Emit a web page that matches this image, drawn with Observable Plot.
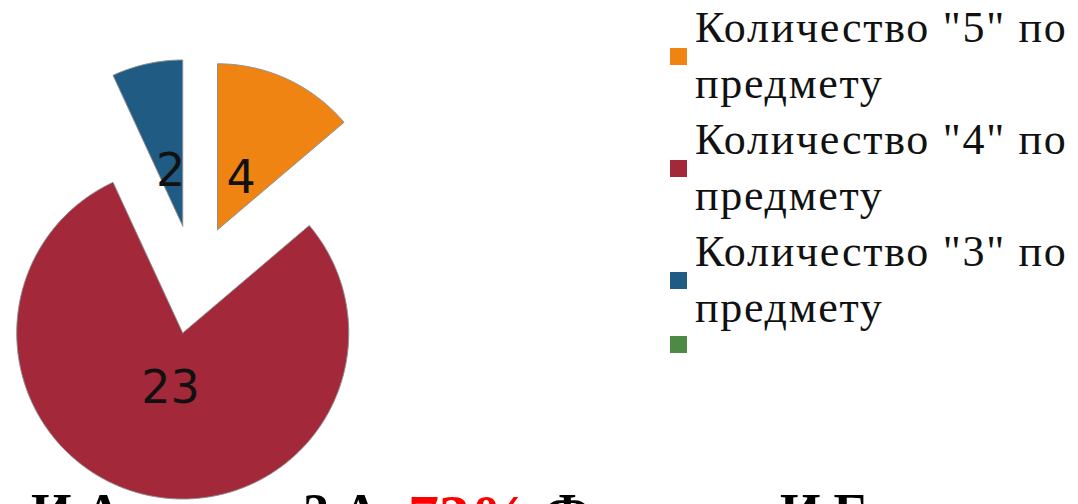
<!DOCTYPE html>
<html><head><meta charset="utf-8">
<script src="https://cdn.jsdelivr.net/npm/d3@7"></script>
<script src="https://cdn.jsdelivr.net/npm/@observablehq/plot@0.6"></script>
<style>
html,body{margin:0;padding:0;background:#fff;}
#wrap{position:relative;width:1078px;height:504px;overflow:hidden;background:#fff;}
#chart{position:absolute;left:0;top:0;z-index:2;}
#chart svg{background:transparent;}
#legend{position:absolute;left:670px;top:0;width:408px;font-family:"Liberation Serif","Times New Roman",serif;font-size:44px;line-height:56px;letter-spacing:1.7px;color:#111;z-index:3;}
.item{display:flex;align-items:center;}
.sw{width:17px;height:17px;flex:none;margin-right:8px;}
.lab{width:383px;font-family:"Liberation Serif",serif;}
#caption{position:absolute;left:0;top:0;width:1078px;height:504px;font-family:"Liberation Serif","Times New Roman",serif;font-weight:bold;line-height:56px;white-space:nowrap;z-index:1;color:#000;}
#caption span{position:absolute;}
</style></head>
<body>
<div id="wrap">
  <div id="caption"></div>
  <div id="chart"></div>
  <div id="legend"></div>
</div>
<script>
// ---- data ----
const categories = ['Количество "5" по предмету', 'Количество "4" по предмету', 'Количество "3" по предмету', ''];
const values = [4, 23, 2, 0];
const sliceLabels = ['4', '23', '2', ''];
const colors = ['#EF8412', '#A3283A', '#1F5B82', '#4C8A46'];
const captionParts = ['И.А. класс', '2 А', '73%', 'Федорова', 'И.Е.'];

// ---- layout ----
const W = 420, H = 504, R = 166, CX = 194, CY = 279;
const explode = 0.33, labelR = 0.67;

const arcs = d3.pie().sort(null).value(d => d).startAngle(0).endAngle(2 * Math.PI)(values);
const polys = [];
const labels = [];
arcs.forEach((p, i) => {
  if (p.value <= 0) return;
  const mid = (p.startAngle + p.endAngle) / 2;
  const ox = explode * Math.sin(mid), oy = explode * Math.cos(mid);
  const cat = categories[i];
  polys.push({cat, x: ox, y: oy});
  const n = Math.max(2, Math.ceil((p.endAngle - p.startAngle) / 0.01));
  for (let k = 0; k <= n; k++) {
    const a = p.startAngle + (p.endAngle - p.startAngle) * k / n;
    polys.push({cat, x: ox + Math.sin(a), y: oy + Math.cos(a)});
  }
  polys.push({cat, x: ox, y: oy});
  labels.push({cat, text: sliceLabels[i], x: labelR * Math.sin(mid), y: labelR * Math.cos(mid)});
});

const chart = Plot.plot({
  width: W, height: H,
  margin: 0,
  x: {domain: [-CX / R, (W - CX) / R], axis: null},
  y: {domain: [(CY - H) / R, CY / R], axis: null},
  color: {domain: categories, range: colors},
  style: {background: "transparent", overflow: "visible"},
  marks: [
    Plot.line(polys, {x: "x", y: "y", z: "cat", fill: "cat", stroke: "#8f8f8f", strokeWidth: 1, curve: "linear"}),
    Plot.text(labels, {x: "x", y: "y", text: "text", fontSize: 46, fontFamily: "DejaVu Sans", fill: "#111"})
  ]
});
document.getElementById("chart").appendChild(chart);

// legend
const lg = document.getElementById("legend");
categories.forEach((c, i) => {
  const it = document.createElement("div");
  it.className = "item";
  const sw = document.createElement("div");
  sw.className = "sw";
  sw.style.background = colors[i];
  const lab = document.createElement("div");
  lab.className = "lab";
  lab.textContent = c;
  it.appendChild(sw); it.appendChild(lab);
  lg.appendChild(it);
});

// caption (cut off at the bottom of the picture)
const cap = document.getElementById("caption");
const capX = [31, 303, 408, 545, 780];
const capSize = [52, 52, 62, 52, 52];
const capColor = ['#000', '#000', '#FF0000', '#000', '#000'];
captionParts.forEach((t, i) => {
  const s = document.createElement("span");
  s.textContent = t;
  const F = capSize[i];
  s.style.fontSize = F + "px";
  s.style.left = capX[i] + "px";
  s.style.top = (496 - (28 - 0.3245 * F)) + "px";
  s.style.color = capColor[i];
  cap.appendChild(s);
});
</script>
</body></html>
